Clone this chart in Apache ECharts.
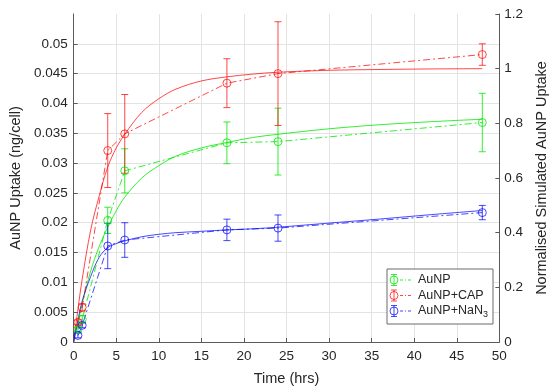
<!DOCTYPE html>
<html>
<head>
<meta charset="utf-8">
<script src="https://cdn.jsdelivr.net/npm/echarts@6/dist/echarts.min.js"></script>
<style>html,body{margin:0;padding:0;background:#fff;}#c{width:557px;height:391px;}</style>
</head>
<body>
<div id="c"></div>
<script>
// Measured data (ng/cell) with error bars
const time = [0.5, 1, 4, 6, 18, 24, 48];
const auNP = [0.0021, 0.0038, 0.0204, 0.0287, 0.0334, 0.0336, 0.0368];
const auNPErr = [0.0004, 0.0006, 0.0022, 0.0037, 0.0035, 0.0056, 0.0049];
const auNPCap = [0.0033, 0.0058, 0.0321, 0.0349, 0.0434, 0.0450, 0.0482];
const auNPCapErr = [0.0004, 0.0006, 0.0062, 0.0066, 0.0041, 0.0087, 0.0018];
const auNPNaN3 = [0.0011, 0.0028, 0.0161, 0.0171, 0.0188, 0.0191, 0.0217];
const auNPNaN3Err = [0.0004, 0.0004, 0.0038, 0.0029, 0.0018, 0.0022, 0.0012];

// Normalised simulated uptake curves (right axis)
const fitTime = [0, 0.5, 1, 2, 3, 4, 5, 6, 8, 10, 12, 15, 18, 21, 24, 30, 36, 42, 48];
const fitAuNP = [0, 0.07, 0.14, 0.26, 0.35, 0.42, 0.48, 0.53, 0.6, 0.645, 0.68, 0.71, 0.73, 0.748, 0.76, 0.78, 0.795, 0.806, 0.815];
const fitAuNPCap = [0, 0.12, 0.23, 0.41, 0.535, 0.64, 0.71, 0.76, 0.84, 0.89, 0.925, 0.955, 0.97, 0.98, 0.987, 0.994, 0.997, 0.999, 1.0];
const fitAuNPNaN3 = [0, 0.08, 0.15, 0.24, 0.31, 0.345, 0.36, 0.37, 0.385, 0.394, 0.4, 0.405, 0.41, 0.414, 0.42, 0.435, 0.45, 0.466, 0.481];

const xTicks = [0, 5, 10, 15, 20, 25, 30, 35, 40, 45, 50];
const legendNames = ['AuNP', 'AuNP+CAP', 'AuNP+NaN3'];

const GREEN = 'rgba(0,235,0,0.8)';
const RED = 'rgba(255,0,0,0.72)';
const BLUE = 'rgba(0,0,255,0.72)';
const FONT = '"Liberation Sans", Arial, Helvetica, sans-serif';
const TXT = '#262626';
const AX = '#5a5a5a';
const GRID = '#e3e3e3';
const DASHDOT = [7, 3, 2, 3];

function pairs(xs, ys) { return xs.map((x, i) => [x, ys[i]]); }
function errData(vals, errs) { return time.map((t, i) => [t, vals[i] - errs[i], vals[i] + errs[i]]); }

function errSeries(vals, errs, color) {
  return {
    type: 'custom',
    data: errData(vals, errs),
    encode: { x: 0, y: [1, 2] },
    z: 3,
    silent: true,
    renderItem: function (params, api) {
      const x = api.value(0), lo = api.value(1), hi = api.value(2);
      const p1 = api.coord([x, hi]);
      const p2 = api.coord([x, lo]);
      const w = 3.5;
      const st = { stroke: color, lineWidth: 1, fill: null };
      return {
        type: 'group',
        children: [
          { type: 'line', shape: { x1: p1[0], y1: p1[1], x2: p2[0], y2: p2[1] }, style: st },
          { type: 'line', shape: { x1: p1[0] - w, y1: p1[1], x2: p1[0] + w, y2: p1[1] }, style: st },
          { type: 'line', shape: { x1: p2[0] - w, y1: p2[1], x2: p2[0] + w, y2: p2[1] }, style: st }
        ]
      };
    }
  };
}

function dataSeries(name, vals, color) {
  return {
    name: name,
    type: 'line',
    data: pairs(time, vals),
    symbol: 'circle',
    symbolSize: 8,
    showSymbol: true,
    z: 4,
    itemStyle: { color: 'rgba(0,0,0,0)', borderColor: color, borderWidth: 1 },
    lineStyle: { color: color, width: 1, type: DASHDOT },
    silent: true
  };
}

function fitSeries(vals, color) {
  return {
    type: 'line',
    yAxisIndex: 1,
    data: pairs(fitTime, vals),
    symbol: 'none',
    smooth: 0.35,
    z: 2,
    lineStyle: { color: color, width: 1, type: 'solid' },
    silent: true
  };
}

// legend via graphics
const legendColors = [GREEN, RED, BLUE];
const legendX = 387, legendY = 269, legendW = 106, legendH = 55;
const rowYs = [280, 295.5, 311];
const legendGraphics = [{
  type: 'rect', shape: { x: legendX, y: legendY, width: legendW, height: legendH },
  style: { fill: '#fff', stroke: '#6b6b6b', lineWidth: 1 }, z: 100
}];
legendNames.forEach((nm, i) => {
  const y = rowYs[i], c = legendColors[i], gx = 394;
  const st = { stroke: c, lineWidth: 1, fill: null };
  legendGraphics.push(
    { type: 'line', shape: { x1: gx, y1: y - 5.5, x2: gx, y2: y + 5.5 }, style: st, z: 101 },
    { type: 'line', shape: { x1: gx - 3, y1: y - 5.5, x2: gx + 3, y2: y - 5.5 }, style: st, z: 101 },
    { type: 'line', shape: { x1: gx - 3, y1: y + 5.5, x2: gx + 3, y2: y + 5.5 }, style: st, z: 101 },
    { type: 'circle', shape: { cx: gx, cy: y, r: 4 }, style: { stroke: c, lineWidth: 1, fill: 'rgba(0,0,0,0)' }, z: 101 },
    { type: 'line', shape: { x1: 400, y1: y, x2: 413, y2: y }, style: { stroke: c, lineWidth: 1, lineDash: [3, 2, 1, 2] }, z: 101 }
  );
  const isNa = nm === 'AuNP+NaN3';
  legendGraphics.push({
    type: 'text', x: 418, y: y, z: 101,
    style: {
      text: isNa ? '{a|AuNP+NaN}{s|3}' : '{a|' + nm + '}',
      verticalAlign: 'middle', align: 'left',
      rich: {
        a: { fontSize: 12.5, fontFamily: FONT, fill: TXT, lineHeight: 16 },
        s: { fontSize: 9, fontFamily: FONT, fill: TXT, lineHeight: 16, padding: [7, 0, 0, 0] }
      }
    }
  });
});

const leftSplitColors = [];
for (let i = 0; i < 11; i++) leftSplitColors.push(GRID);
leftSplitColors.push('rgba(0,0,0,0)');

const option = {
  animation: false,
  backgroundColor: '#fff',
  grid: { left: 72, right: 45, top: 14, bottom: 42 },
  xAxis: {
    type: 'value', min: 0, max: 50, interval: 5,
    name: 'Time (hrs)', nameLocation: 'middle', nameGap: 29,
    nameTextStyle: { fontSize: 14.5, fontFamily: FONT, color: TXT },
    axisLine: { show: true, onZero: false, lineStyle: { color: AX, width: 1 } },
    axisTick: { show: true, inside: true, length: 4, lineStyle: { color: AX } },
    axisLabel: { fontSize: 13.5, fontFamily: FONT, color: TXT, margin: 7,
      formatter: v => (xTicks.indexOf(v) >= 0 ? String(v) : '') },
    splitLine: { show: true, lineStyle: { color: GRID, width: 1 } }
  },
  yAxis: [{
    type: 'value', min: 0, max: 0.055, interval: 0.005, position: 'left',
    name: 'AuNP Uptake (ng/cell)', nameLocation: 'middle', nameGap: 42, nameRotate: 90,
    nameTextStyle: { fontSize: 14.5, fontFamily: FONT, color: TXT },
    axisLine: { show: true, lineStyle: { color: AX, width: 1 } },
    axisTick: { show: true, inside: true, length: 4, lineStyle: { color: AX } },
    axisLabel: { fontSize: 13.5, fontFamily: FONT, color: TXT, margin: 6, showMaxLabel: false,
      formatter: v => String(parseFloat(v.toFixed(3))) },
    splitLine: { show: true, lineStyle: { color: leftSplitColors, width: 1 } }
  }, {
    type: 'value', min: 0, max: 1.2, interval: 0.2, position: 'right',
    name: 'Normalised Simulated AuNP Uptake', nameLocation: 'middle', nameGap: 34, nameRotate: 90,
    nameTextStyle: { fontSize: 14.5, fontFamily: FONT, color: TXT },
    axisLine: { show: true, lineStyle: { color: AX, width: 1 } },
    axisTick: { show: true, inside: true, length: 4, lineStyle: { color: AX } },
    axisLabel: { fontSize: 13.5, fontFamily: FONT, color: TXT, margin: 5,
      formatter: v => String(parseFloat(v.toFixed(1))) },
    splitLine: { show: false }
  }],
  series: [
    fitSeries(fitAuNP, GREEN),
    fitSeries(fitAuNPCap, RED),
    fitSeries(fitAuNPNaN3, BLUE),
    errSeries(auNP, auNPErr, GREEN),
    errSeries(auNPCap, auNPCapErr, RED),
    errSeries(auNPNaN3, auNPNaN3Err, BLUE),
    dataSeries(legendNames[0], auNP, GREEN),
    dataSeries(legendNames[1], auNPCap, RED),
    dataSeries(legendNames[2], auNPNaN3, BLUE)
  ],
  graphic: legendGraphics
};

const chart = echarts.init(document.getElementById('c'), null, { renderer: 'canvas' });
chart.setOption(option);
</script>
</body>
</html>
